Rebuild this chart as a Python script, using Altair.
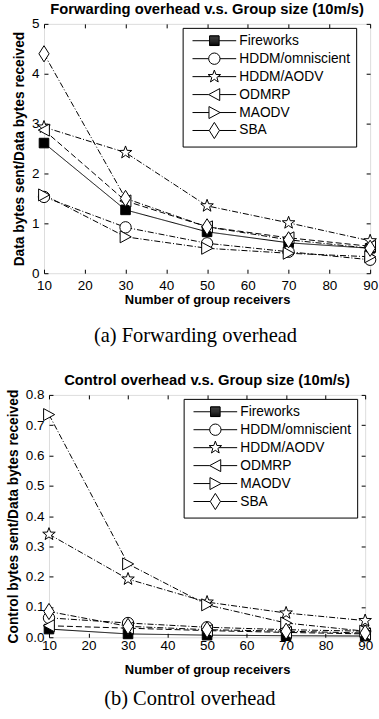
import math
import altair as alt
import pandas as pd

receivers = [10, 30, 50, 70, 90]
series = ["Fireworks", "HDDM/omniscient", "HDDM/AODV", "ODMRP", "MAODV", "SBA"]

# (a) Forwarding overhead
fwd_fireworks = [2.61, 1.27, 0.83, 0.61, 0.50]
fwd_omniscient = [1.53, 0.92, 0.60, 0.43, 0.27]
fwd_aodv = [2.93, 2.42, 1.35, 1.01, 0.65]
fwd_odmrp = [2.87, 1.45, 0.93, 0.71, 0.54]
fwd_maodv = [1.57, 0.73, 0.50, 0.40, 0.33]
fwd_sba = [4.40, 1.50, 0.93, 0.67, 0.50]

# (b) Control overhead
ctl_fireworks = [0.027, 0.011, 0.007, 0.005, 0.004]
ctl_omniscient = [0.064, 0.047, 0.033, 0.025, 0.020]
ctl_aodv = [0.340, 0.192, 0.116, 0.080, 0.055]
ctl_odmrp = [0.038, 0.030, 0.022, 0.016, 0.011]
ctl_maodv = [0.735, 0.242, 0.107, 0.047, 0.020]
ctl_sba = [0.085, 0.036, 0.025, 0.020, 0.014]

x_ticks = [10, 20, 30, 40, 50, 60, 70, 80, 90]
fwd_ticks_y = [0, 1, 2, 3, 4, 5]
ctl_ticks_y = [0, 0.1, 0.2, 0.3, 0.4, 0.5, 0.6, 0.7, 0.8]


def long_table(cols):
    rows = []
    for name, vals in zip(series, cols):
        for x, v in zip(receivers, vals):
            rows.append({"receivers": x, "value": v, "series": name})
    return pd.DataFrame(rows)


fwd_df = long_table([fwd_fireworks, fwd_omniscient, fwd_aodv, fwd_odmrp, fwd_maodv, fwd_sba])
ctl_df = long_table([ctl_fireworks, ctl_omniscient, ctl_aodv, ctl_odmrp, ctl_maodv, ctl_sba])


# ---- marker shapes (unit = sqrt(size)/2 px) ----
def star_pts(R, r, cx=0.0):
    pts = []
    for k in range(10):
        ang = math.radians(-90 + 36 * k)
        rad = R if k % 2 == 0 else r
        pts.append((cx + rad * math.cos(ang), rad * math.sin(ang)))
    return "M" + "L".join(f"{x:.3f},{y:.3f}" for x, y in pts) + "Z"


def shapes(cx=0.0, hatch=False):
    sq = f"M{cx-0.8},-0.8L{cx+0.8},-0.8L{cx+0.8},0.8L{cx-0.8},0.8Z"
    if hatch:  # solid look for the filled square in the legend
        yy = -0.8
        while yy <= 0.81:
            sq += f"M{cx-0.8},{yy:.2f}L{cx+0.8},{yy:.2f}"
            yy += 0.16
    ci = f"M{cx-0.95},0A0.95,0.95,0,1,0,{cx+0.95},0A0.95,0.95,0,1,0,{cx-0.95},0Z"
    st = star_pts(1.1, 0.45, cx)
    tl = f"M{cx-0.95},0L{cx+0.9},-1L{cx+0.9},1Z"
    tr = f"M{cx+0.95},0L{cx-0.9},-1L{cx-0.9},1Z"
    di = f"M{cx},-1.35L{cx+0.85},0L{cx},1.35L{cx-0.85},0Z"
    return [sq, ci, st, tl, tr, di]


marker_paths = shapes()
marker_edges = [0.8, 0.95, 0.6, 0.95, 0.9, 0.85]

# legend symbols: short solid line with the marker in its middle
L0 = -0.5
LEN = 7.3
MC = L0 + LEN / 2
legend_markers = shapes(MC, hatch=True)
legend_paths = [
    f"M{L0},0L{MC-e:.2f},0M{MC+e:.2f},0L{L0+LEN:.2f},0" + p
    for p, e in zip(legend_markers, marker_edges)
]

fills = ["black", "white", "white", "white", "white", "white"]
dashes = [[1, 0], [6, 2, 1, 2], [6, 2, 1, 2], [6, 3], [6, 2, 1, 2], [6, 2, 1, 2]]

FONT = "Liberation Sans"
SERIF = "Liberation Serif"
MSIZE = 144


def legend_def(lx):
    return alt.Legend(
        title=None, orient="none", legendX=lx, legendY=4,
        strokeColor="black", fillColor="white", padding=6,
        symbolSize=MSIZE, symbolStrokeColor="black", symbolFillColor="white",
        symbolStrokeWidth=1, symbolOpacity=1,
        symbolOffset=0, labelOffset=37,
        labelFont=FONT, labelFontSize=13.8, labelColor="black",
        rowPadding=-3, gridAlign="all", cornerRadius=0,
    )


def panel(df, title, ytitle, yticks, ymax, w, h, lx, xlabpad, xtitlepad, ytitlepad):
    xs = alt.Scale(domain=[10, 90], nice=False, zero=False)
    ys = alt.Scale(domain=[0, ymax], nice=False)
    x_bottom = alt.X(
        "receivers:Q", scale=xs,
        axis=alt.Axis(values=x_ticks, orient="bottom", offset=-4, tickSize=4,
                      domain=False, grid=False, labelPadding=xlabpad, labelFontSize=13.5,
                      labelFont=FONT, labelColor="black", tickColor="black",
                      title="Number of group receivers", titleFont=FONT,
                      titleFontSize=13, titleFontWeight="bold", titleColor="black",
                      titlePadding=xtitlepad, labelFlush=False),
    )
    y_left = alt.Y(
        "value:Q", scale=ys,
        axis=alt.Axis(values=yticks, orient="left", offset=-4, tickSize=4,
                      domain=False, grid=False, labelPadding=5, labelFontSize=13.5,
                      labelFont=FONT, labelColor="black", tickColor="black",
                      title=ytitle, titleFont=FONT, titleFontSize=13.8,
                      titleFontWeight="bold", titleColor="black", titlePadding=ytitlepad,
                      labelFlush=False),
    )
    x_top = alt.X(
        "receivers:Q", scale=xs,
        axis=alt.Axis(values=x_ticks, orient="top", offset=-4, tickSize=4,
                      domain=False, grid=False, labels=False, title=None,
                      tickColor="black"),
    )
    y_right = alt.Y(
        "value:Q", scale=ys,
        axis=alt.Axis(values=yticks, orient="right", offset=-4, tickSize=4,
                      domain=False, grid=False, labels=False, title=None,
                      tickColor="black"),
    )

    lines = alt.Chart(df).mark_line(color="black", strokeWidth=1).encode(
        x=x_bottom, y=y_left,
        strokeDash=alt.StrokeDash("series:N", scale=alt.Scale(domain=series, range=dashes), legend=None),
        detail="series:N",
    )
    points = alt.Chart(df).mark_point(filled=True, stroke="black", strokeWidth=1, size=MSIZE, opacity=1).encode(
        x=x_top, y=y_right,
        shape=alt.Shape("series:N", scale=alt.Scale(domain=series, range=marker_paths), legend=None),
        fill=alt.Fill("series:N", scale=alt.Scale(domain=series, range=fills), legend=None),
    )
    # legend-only layer: no rows survive the filter, the legend comes from the scale domain
    legend_layer = alt.Chart(df).transform_filter("datum.receivers < 0").mark_point(
        filled=True, stroke="black", strokeWidth=1, size=MSIZE, opacity=0, clip=True
    ).encode(
        x=alt.X("receivers:Q", scale=xs, axis=None),
        y=alt.Y("value:Q", scale=ys, axis=None),
        shape=alt.Shape("series:N", scale=alt.Scale(domain=series, range=legend_paths), legend=legend_def(lx)),
        fill=alt.Fill("series:N", scale=alt.Scale(domain=series, range=fills), legend=legend_def(lx)),
    )
    layered = alt.layer(lines, points, legend_layer).resolve_scale(
        shape="independent"
    ).properties(
        width=w, height=h,
        title=alt.TitleParams(title, font=FONT, fontSize=14.8, fontWeight="bold",
                              color="black", offset=0, anchor="middle"),
    )
    return layered


top = panel(fwd_df, "Forwarding overhead v.s. Group size (10m/s)",
            "Data bytes sent/Data bytes received", fwd_ticks_y, 5, 327, 250, 139,
            5, 2, 5)
bottom = panel(ctl_df, "Control overhead v.s. Group size (10m/s)",
               "Control bytes sent/Data bytes received", ctl_ticks_y, 0.8, 317, 243, 135,
               1, 12, 5)

top_w = alt.vconcat(top).properties(
    title=alt.TitleParams("(a) Forwarding overhead", orient="bottom", font=SERIF,
                          fontSize=20.5, fontWeight="normal", color="black", offset=19,
                          anchor="middle"))
bottom_w = alt.vconcat(bottom).properties(
    title=alt.TitleParams("(b) Control overhead", orient="bottom", font=SERIF,
                          fontSize=20.5, fontWeight="normal", color="black", offset=12,
                          anchor="middle"))

chart = alt.vconcat(top_w, bottom_w, spacing=25, center=True).properties(
    padding={"left": 5, "top": 0, "right": 0, "bottom": 0}
).configure_view(stroke="black", strokeWidth=1.2).configure(background="white")

chart.save("out.html", embed_options={"renderer": "svg", "actions": False})
